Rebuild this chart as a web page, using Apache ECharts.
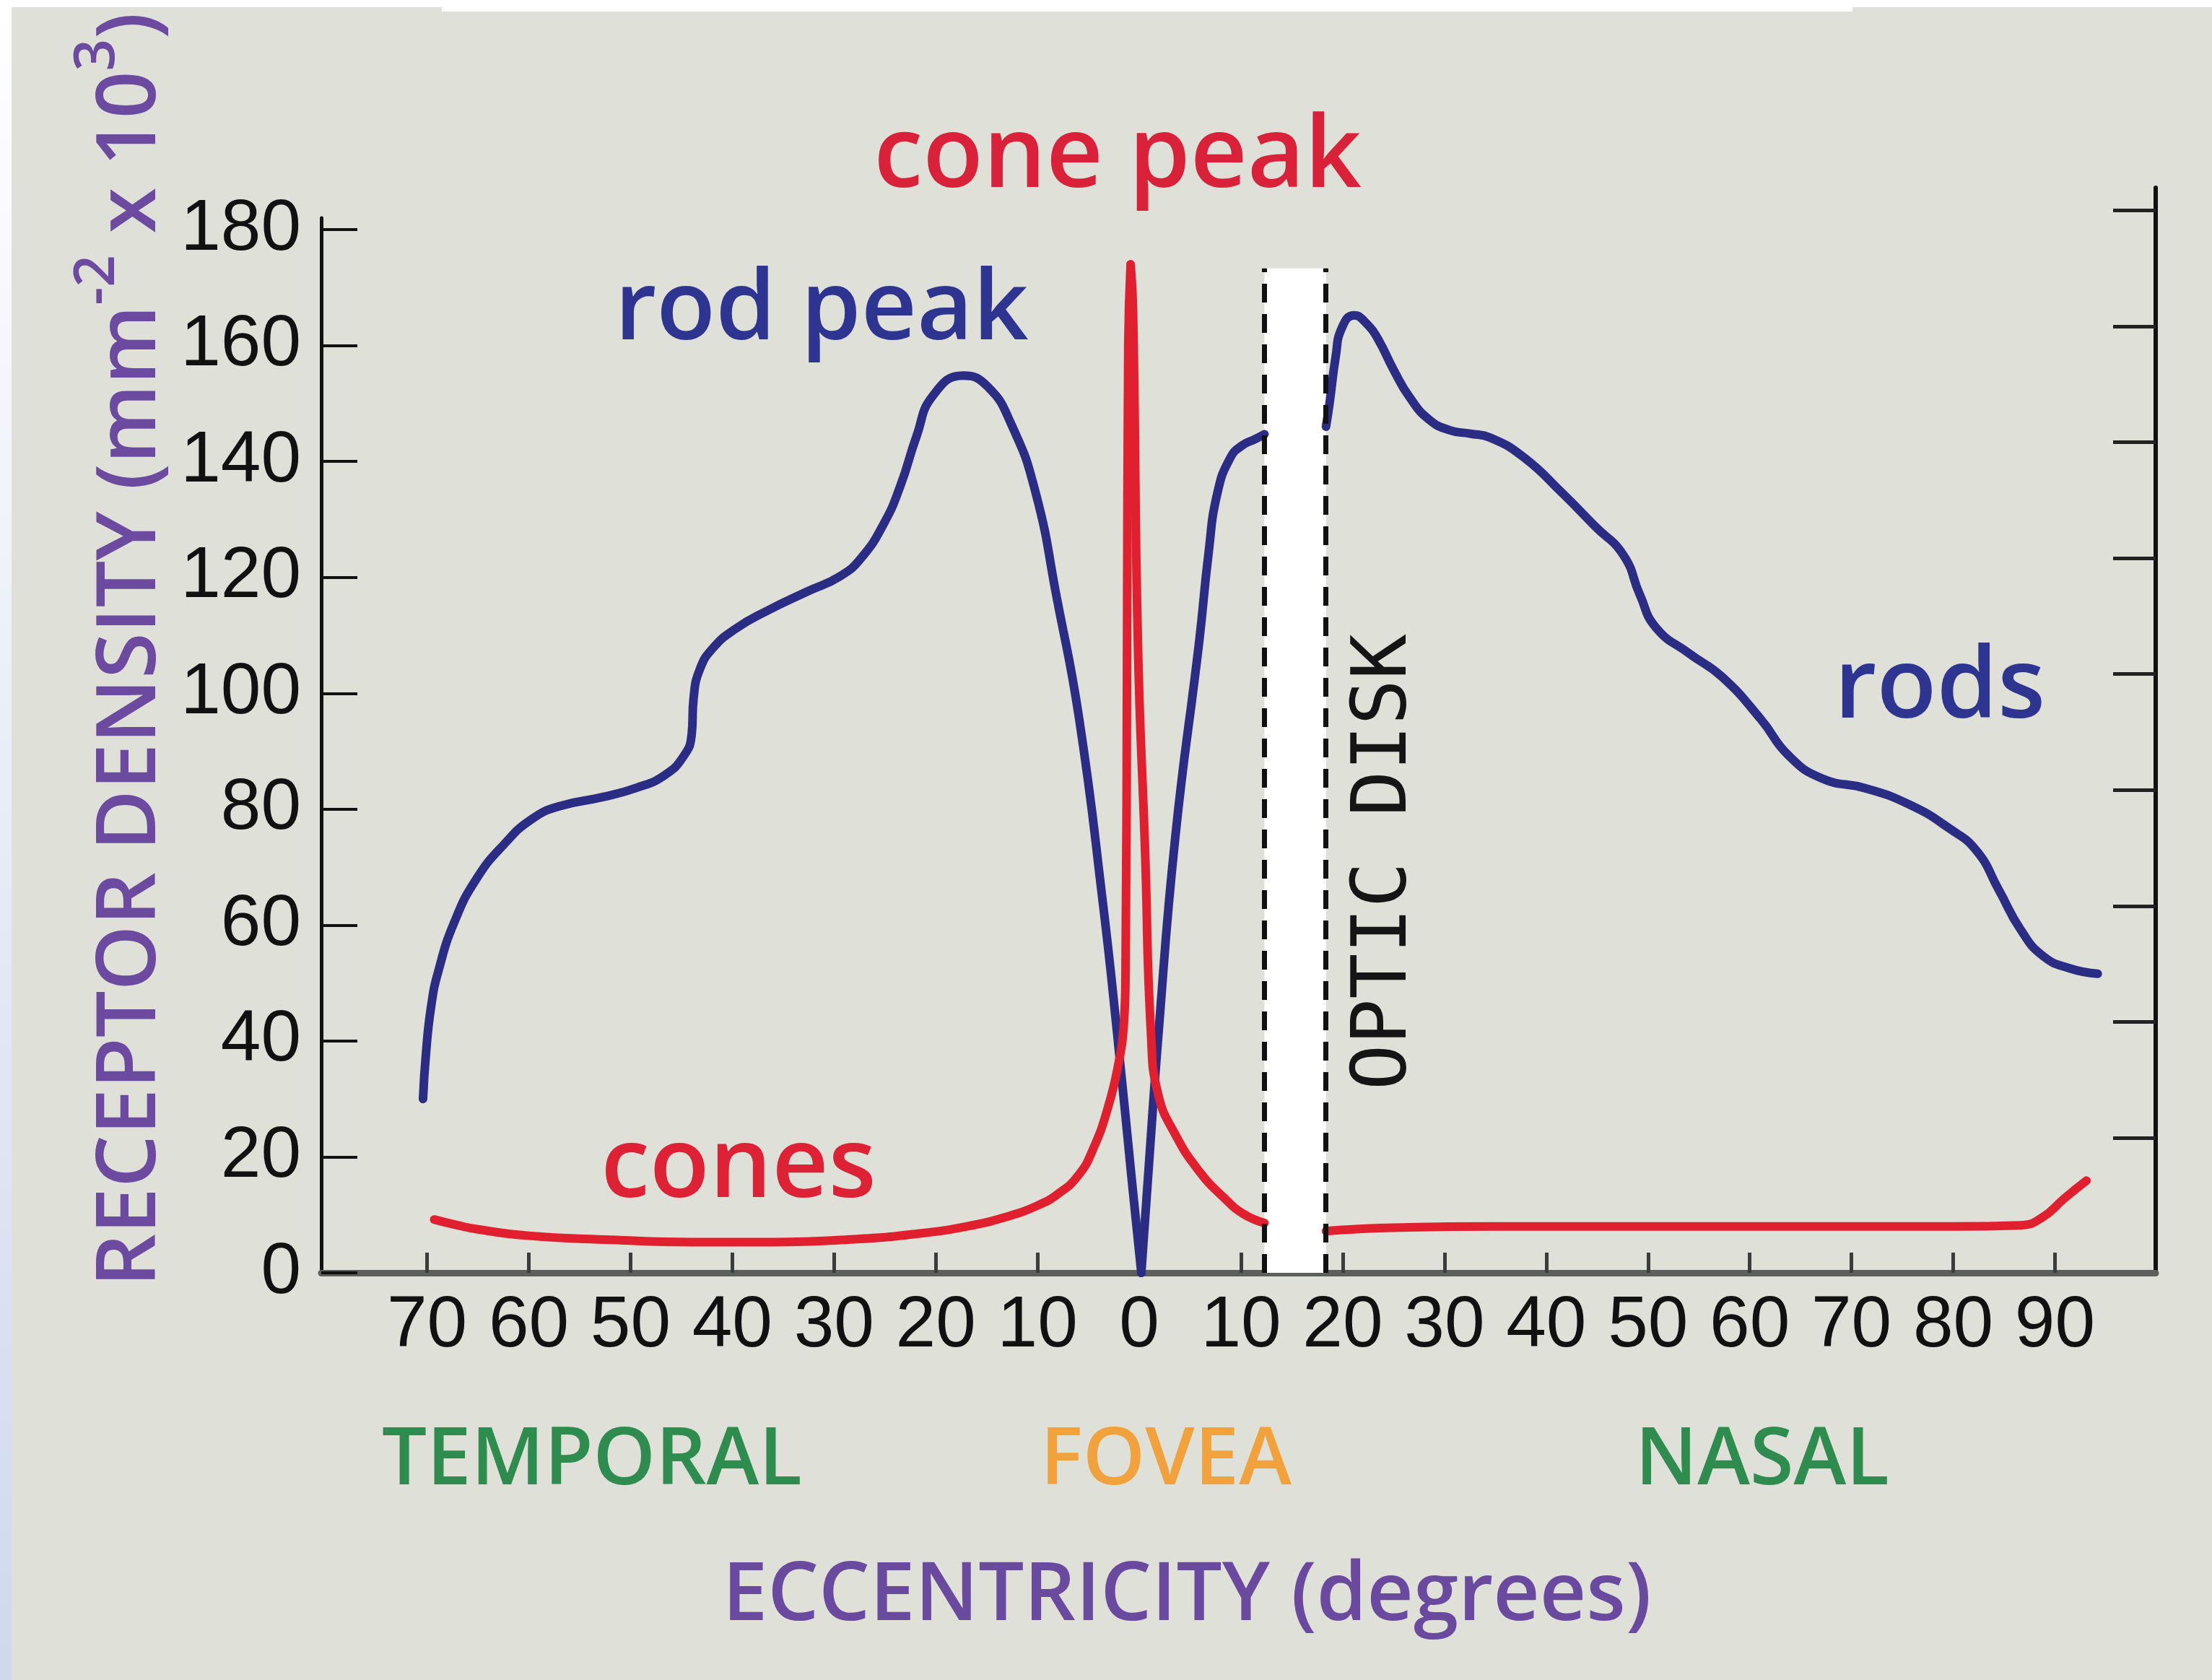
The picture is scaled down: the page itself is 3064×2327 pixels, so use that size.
<!DOCTYPE html>
<html>
<head>
<meta charset="utf-8">
<script src="https://cdn.jsdelivr.net/npm/echarts@6/dist/echarts.min.js"></script>
<style>
html,body{margin:0;padding:0;background:#dfe1d8;}
#chart{width:3064px;height:2327px;}
</style>
</head>
<body>
<div id="chart"></div>
<script>
// ---- axis ticks (degrees of eccentricity; negative = temporal side) ----
const xTickValues = [-70,-60,-50,-40,-30,-20,-10,0,10,20,30,40,50,60,70,80,90];
const yTickValues = [0,20,40,60,80,100,120,140,160,180];
const rightTickValues = [23.3,43.3,63.3,83.3,103.3,123.3,143.3,163.3,183.3];

// ---- rods (thousands per mm^2) ----
const rodsTemporal = [
  [-70.4,30],[-70.1,38],[-69.6,46],[-68.9,52],[-67.3,60.6],[-65.1,68.1],[-62.4,74],
  [-59.7,78.3],[-57.0,80.5],[-52.7,82.1],[-49.4,83.7],[-46.7,85.8],[-44.8,89.1],
  [-44.0,92.8],[-43.8,99.2],[-43.2,104.1],[-41.9,107.8],[-39.7,111.1],[-36.5,114.3],
  [-32.7,117.5],[-29.4,120.2],[-27.3,123.4],[-25.1,129.3],[-23.5,135.7],[-21.9,144.3],
  [-20.3,151.3],[-17.3,154.8],[-14.9,152.9],[-12.6,146.5],[-10.2,134.7],[-8.1,116.4],
  [-5.9,95.5],[-3.57,63.7],[-2.15,40.9],[-0.73,15.9],[0.2,0]
];
const rodsFovealNasal = [
  [0.2,0],[0.93,18.2],[1.87,40.9],[3.53,75],[5.9,109.1],[6.8,124],[7.67,134.5],
  [8.97,140.7],[10.15,142.8],[11.33,143.8],[12.3,144.7]
];
const rodsNasal = [
  [18.35,146],[18.7,150],[19.3,158],[19.9,163],[21.1,165.2],[22.5,163.5],[23.5,161],
  [25.0,155.8],[26.6,151],[28.5,147.2],[30.5,145.4],[32.5,144.8],[34.5,144.1],
  [37.8,140.7],[41.6,134.5],[44.8,128.8],[47.6,123.8],[49.2,117.0],[50.8,111.3],
  [54.1,106.8],[57.3,102.8],[61.1,95.5],[63.8,89.3],[67.1,85.3],[71.4,83.6],
  [75.8,80.7],[79.6,76.7],[82.3,72.8],[84.5,66.0],[86.6,59.3],[88.8,54.7],
  [91.5,52.5],[94.2,51.6]
];

// ---- cones (thousands per mm^2) ----
const conesTemporal = [
  [-69.3,9.2],[-67,8.2],[-65,7.5],[-60,6.4],[-52,5.7],[-44,5.3],[-36,5.3],[-28,5.8],
  [-22,6.7],[-17,8.0],[-13,9.7],[-10,11.6],[-8,13.6],[-6,16.8],[-4.5,21.5],[-3,29],
  [-2,36.5],[-1.55,42],[-1.35,52],[-1.2,109],[-1.08,160],[-0.85,174]
];
const conesFovealNasal = [
  [-0.85,174],[-0.61,165.9],[-0.14,109],[0.57,72.7],[1.16,40.9],[1.87,30.7],
  [3.53,23.9],[5.9,17.5],[8.3,13],[10.2,10.2],[12.3,8.6]
];
const conesNasal = [
  [18.35,7.2],[21,7.5],[25,7.8],[35,8.0],[50,8.0],[65,8.0],[80,8.0],[86.6,8.2],
  [88.8,9.6],[90.9,12.8],[93.1,15.9]
];

// ---- optic disk: [start degree, end degree, top value] ----
const opticDisk = [12.3, 18.35, 173.3];

const ROD = '#2b2d84', CONE = '#e0202f';
const TICKFONT = "'Liberation Sans', Arial, sans-serif";
const SANS = "'Open Sans', 'Noto Sans', sans-serif";

function curve(name, data, color) {
  return {
    name: name, type: 'line', data: data, xAxisIndex: 0, yAxisIndex: 0,
    smooth: 0.5, showSymbol: false, symbol: 'none', z: 3,
    lineStyle: {color: color, width: 12, cap: 'round', join: 'round'},
    itemStyle: {color: color}, silent: true
  };
}

function txt(x, y, text, size, color) {
  return {
    type: 'text', x: x, y: y, silent: true, z: 10,
    style: {
      text: text, fontFamily: SANS, fontSize: size, fontWeight: 600, fill: color,
      textAlign: 'center', textVerticalAlign: 'middle', align: 'center', verticalAlign: 'middle'
    }
  };
}

const chart = echarts.init(document.getElementById('chart'), null, {renderer: 'canvas'});
const option = {
  backgroundColor: '#dfe1d8',
  animation: false,
  grid: [
    {left: 445, top: 302, width: 2541, bottom: 564, containLabel: false},
    {left: 445, top: 260, width: 2541, bottom: 564, containLabel: false}
  ],
  xAxis: [
    {
      type: 'value', gridIndex: 0, min: -80.4, max: 99.9,
      axisLine: {show: true, onZero: false, lineStyle: {color: '#5c605c', width: 9}},
      axisTick: {show: true, inside: true, length: 28, customValues: xTickValues,
                 lineStyle: {color: '#3a3d3a', width: 5}},
      axisLabel: {customValues: xTickValues, formatter: v => String(Math.abs(v)),
                  fontFamily: TICKFONT, fontSize: 100, color: '#111', margin: 24},
      splitLine: {show: false}
    },
    {type: 'value', gridIndex: 1, min: -80.4, max: 99.9, show: false}
  ],
  yAxis: [
    {
      type: 'value', gridIndex: 0, min: 0, max: 182,
      axisLine: {show: true, onZero: false, lineStyle: {color: '#111', width: 5}},
      axisTick: {show: true, inside: true, length: 50, customValues: yTickValues,
                 lineStyle: {color: '#111', width: 4}},
      axisLabel: {customValues: yTickValues, fontFamily: TICKFONT, fontSize: 100,
                  color: '#111', margin: 28},
      splitLine: {show: false}
    },
    {
      type: 'value', gridIndex: 1, position: 'right', min: 0, max: 187.2,
      axisLine: {show: true, onZero: false, lineStyle: {color: '#111', width: 6}},
      axisTick: {show: true, inside: true, length: 59, customValues: rightTickValues,
                 lineStyle: {color: '#222', width: 5}},
      axisLabel: {show: false},
      splitLine: {show: false}
    }
  ],
  series: [
    {
      name: 'optic disk', type: 'line', data: [], xAxisIndex: 0, yAxisIndex: 0, z: 2,
      markArea: {
        silent: true, itemStyle: {color: '#ffffff'},
        data: [[{coord: [opticDisk[0], 0]}, {coord: [opticDisk[1], opticDisk[2]]}]]
      },
      markLine: {
        silent: true, symbol: ['none', 'none'], label: {show: false},
        lineStyle: {color: '#111', width: 7, type: [26, 16]},
        data: [
          [{coord: [opticDisk[0], 0]}, {coord: [opticDisk[0], opticDisk[2]]}],
          [{coord: [opticDisk[1], 0]}, {coord: [opticDisk[1], opticDisk[2]]}]
        ]
      }
    },
    curve('rods', rodsTemporal, ROD),
    curve('rods', rodsFovealNasal, ROD),
    curve('rods', rodsNasal, ROD),
    curve('cones', conesTemporal, CONE),
    curve('cones', conesFovealNasal, CONE),
    curve('cones', conesNasal, CONE)
  ],
  graphic: [
    {type: 'rect', shape: {x: 0, y: 0, width: 3064, height: 10}, style: {fill: '#ffffff'}, silent: true},
    {type: 'rect', shape: {x: 612, y: 0, width: 1954, height: 16}, style: {fill: '#ffffff'}, silent: true},
    {type: 'rect', shape: {x: 0, y: 0, width: 16, height: 2327}, silent: true,
     style: {fill: new echarts.graphic.LinearGradient(0, 0, 0, 1, [
       {offset: 0, color: '#ffffff'}, {offset: 1, color: '#cfd8ee'}])}},
    txt(1548, 220, 'cone peak', 137, '#d9223a'),
    txt(1138, 432, 'rod peak', 134, '#2e3590'),
    txt(2687, 955, 'rods', 136, '#2e3590'),
    txt(1023, 1619, 'cones', 136, '#de2236'),
    txt(820, 2025, 'TEMPORAL', 110, '#2f8c4f'),
    txt(1615, 2025, 'FOVEA', 110, '#f2a23c'),
    txt(2441, 2025, 'NASAL', 110, '#2f8c4f'),
    txt(1644, 2212, 'ECCENTRICITY (degrees)', 112, '#6a4a9e'),
    {
      type: 'text', x: 1920, y: 1194, rotation: Math.PI / 2, silent: true, z: 10,
      style: {
        text: 'OPTIC DISK', fontFamily: "'DejaVu Sans Mono', monospace", fontSize: 105,
        fill: '#151515', textAlign: 'center', textVerticalAlign: 'middle',
        align: 'center', verticalAlign: 'middle'
      }
    },
    {
      type: 'text', x: 182, y: 900, rotation: Math.PI / 2, silent: true, z: 10,
      style: {
        text: '{b|RECEPTOR DENSITY (mm}{s|-2}{b| x 10}{s|3}{b|)}',
        textAlign: 'center', textVerticalAlign: 'middle', align: 'center', verticalAlign: 'middle',
        fill: '#6b4aa0',
        rich: {
          b: {fontFamily: SANS, fontSize: 115, fontWeight: 600, fill: '#6b4aa0', lineHeight: 170, verticalAlign: 'middle'},
          s: {fontFamily: SANS, fontSize: 78, fontWeight: 600, fill: '#6b4aa0', lineHeight: 78, verticalAlign: 'top'}
        }
      }
    }
  ]
};
chart.setOption(option);
</script>
</body>
</html>
